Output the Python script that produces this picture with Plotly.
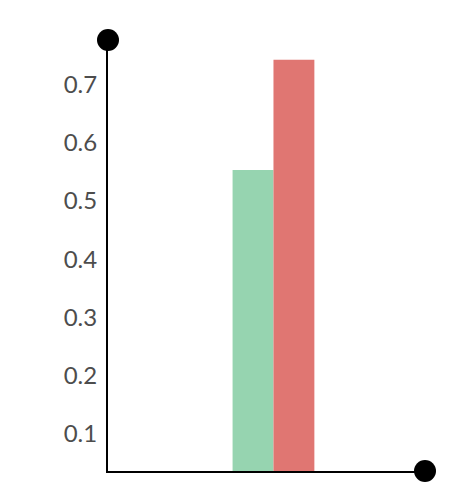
import plotly.graph_objects as go

categories = [0]
series_names = ["A", "B"]
series_values = [[0.553], [0.742]]
colors = ["#96d4b0", "#e07672"]
y_ticks = [0.1, 0.2, 0.3, 0.4, 0.5, 0.6, 0.7]

fig = go.Figure()
for name, vals, c in zip(series_names, series_values, colors):
    fig.add_trace(go.Bar(x=categories, y=vals, name=name, marker=dict(color=c, line=dict(width=0))))

fig.update_layout(
    width=450, height=498,
    margin=dict(l=100, r=33, t=32, b=35),
    paper_bgcolor="white", plot_bgcolor="white",
    barmode="group", bargap=0.742, bargroupgap=0,
    showlegend=False,
    font=dict(family="Lato", size=24, color="#4d4d4d"),
    xaxis=dict(range=[-0.522, 0.478], showticklabels=False, showgrid=False, zeroline=False,
               showline=True, linecolor="black", linewidth=2, ticks=""),
    yaxis=dict(range=[0.0365, 0.776], tickvals=y_ticks, ticktext=[str(v) for v in y_ticks],
               showgrid=False, zeroline=False, showline=True, linecolor="black", linewidth=2,
               ticks="", ticklabelstandoff=4),
    shapes=[
        dict(type="circle", xref="paper", yref="paper", xsizemode="pixel", ysizemode="pixel",
             xanchor=0, yanchor=1, x0=-11, x1=11, y0=-11, y1=11,
             fillcolor="black", line=dict(width=0)),
        dict(type="circle", xref="paper", yref="paper", xsizemode="pixel", ysizemode="pixel",
             xanchor=1, yanchor=0, x0=-11, x1=11, y0=-11, y1=11,
             fillcolor="black", line=dict(width=0)),
    ],
)

fig.write_html("out.html")
